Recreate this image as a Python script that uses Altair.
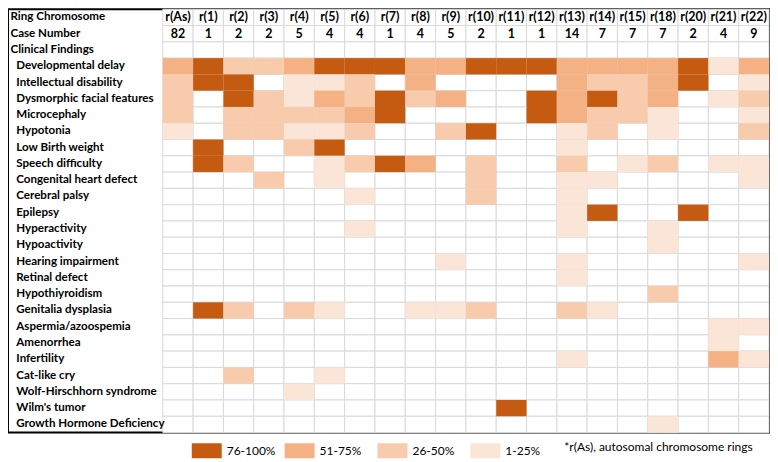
import altair as alt
import pandas as pd

# ---- data ----
rings = ["r(As)", "r(1)", "r(2)", "r(3)", "r(4)", "r(5)", "r(6)", "r(7)", "r(8)", "r(9)",
         "r(10)", "r(11)", "r(12)", "r(13)", "r(14)", "r(15)", "r(18)", "r(20)", "r(21)", "r(22)"]
cases = [82, 1, 2, 2, 5, 4, 4, 1, 4, 5, 2, 1, 1, 14, 7, 7, 7, 2, 4, 9]

header_rows = ["Ring Chromosome", "Case Number", "Clinical Findings"]
findings = [
    "Developmental delay", "Intellectual disability", "Dysmorphic facial features",
    "Microcephaly", "Hypotonia", "Low Birth weight", "Speech difficulty",
    "Congenital heart defect", "Cerebral palsy", "Epilepsy", "Hyperactivity",
    "Hypoactivity", "Hearing impairment", "Retinal defect", "Hypothiyroidism",
    "Genitalia dysplasia", "Aspermia/azoospemia", "Amenorrhea", "Infertility",
    "Cat-like cry", "Wolf-Hirschhorn syndrome", "Wilm's tumor", "Growth Hormone Deficiency",
]

# level per cell: 0 none, 1 = 1-25%, 2 = 26-50%, 3 = 51-75%, 4 = 76-100%
levels = [
    [3, 4, 2, 2, 3, 4, 4, 4, 3, 3, 4, 4, 4, 3, 3, 3, 3, 4, 1, 3],
    [2, 4, 4, 0, 1, 1, 2, 0, 3, 0, 0, 0, 0, 3, 2, 2, 3, 4, 0, 1],
    [2, 0, 4, 2, 1, 3, 2, 4, 2, 3, 0, 0, 4, 3, 4, 2, 3, 0, 1, 2],
    [2, 0, 2, 2, 2, 2, 3, 4, 0, 0, 0, 0, 4, 3, 2, 2, 1, 0, 0, 1],
    [1, 0, 2, 2, 1, 1, 2, 0, 0, 2, 4, 0, 0, 1, 2, 0, 1, 0, 0, 2],
    [0, 4, 0, 0, 2, 4, 0, 0, 0, 0, 0, 0, 0, 1, 0, 0, 0, 0, 0, 0],
    [0, 4, 2, 0, 0, 1, 2, 4, 3, 0, 2, 0, 0, 2, 0, 1, 2, 0, 1, 1],
    [0, 0, 0, 2, 0, 1, 0, 0, 0, 0, 2, 0, 0, 1, 1, 0, 0, 0, 0, 1],
    [0, 0, 0, 0, 0, 0, 1, 0, 0, 0, 2, 0, 0, 1, 0, 0, 0, 0, 0, 0],
    [0, 0, 0, 0, 0, 0, 0, 0, 0, 0, 0, 0, 0, 1, 4, 0, 0, 4, 0, 0],
    [0, 0, 0, 0, 0, 0, 1, 0, 0, 0, 0, 0, 0, 1, 0, 0, 1, 0, 0, 0],
    [0, 0, 0, 0, 0, 0, 0, 0, 0, 0, 0, 0, 0, 0, 0, 0, 1, 0, 0, 0],
    [0, 0, 0, 0, 0, 0, 0, 0, 0, 1, 0, 0, 0, 1, 0, 0, 0, 0, 0, 1],
    [0, 0, 0, 0, 0, 0, 0, 0, 0, 0, 0, 0, 0, 1, 0, 0, 0, 0, 0, 0],
    [0, 0, 0, 0, 0, 0, 0, 0, 0, 0, 0, 0, 0, 0, 0, 0, 2, 0, 0, 0],
    [0, 4, 2, 0, 2, 1, 0, 0, 1, 1, 2, 0, 0, 2, 1, 0, 0, 0, 0, 0],
    [0, 0, 0, 0, 0, 0, 0, 0, 0, 0, 0, 0, 0, 0, 0, 0, 0, 0, 1, 1],
    [0, 0, 0, 0, 0, 0, 0, 0, 0, 0, 0, 0, 0, 0, 0, 0, 0, 0, 1, 0],
    [0, 0, 0, 0, 0, 0, 0, 0, 0, 0, 0, 0, 0, 1, 0, 0, 0, 0, 3, 1],
    [0, 0, 2, 0, 0, 1, 0, 0, 0, 0, 0, 0, 0, 0, 0, 0, 0, 0, 0, 0],
    [0, 0, 0, 0, 1, 0, 0, 0, 0, 0, 0, 0, 0, 0, 0, 0, 0, 0, 0, 0],
    [0, 0, 0, 0, 0, 0, 0, 0, 0, 0, 0, 4, 0, 0, 0, 0, 0, 0, 0, 0],
    [0, 0, 0, 0, 0, 0, 0, 0, 0, 0, 0, 0, 0, 0, 0, 0, 1, 0, 0, 0],
]

legend_labels = ["76-100%", "51-75%", "26-50%", "1-25%"]
legend_levels = [4, 3, 2, 1]
legend_colors = ["#C55A11", "#F4B183", "#F8CBAD", "#FBE5D6"]
footnote = "*r(As), autosomal chromosome rings"

# ---- tables ----
all_rows = header_rows + findings
grid = pd.DataFrame([(r, c) for r in all_rows for c in rings], columns=["row", "ring"])

level_to_label = dict(zip(legend_levels, legend_labels))
cells = pd.DataFrame(
    [(f, c, level_to_label[lv]) for f, row in zip(findings, levels)
     for c, lv in zip(rings, row) if lv > 0],
    columns=["row", "ring", "share"],
)

headers = pd.DataFrame(
    [("Ring Chromosome", c, c) for c in rings] +
    [("Case Number", c, str(n)) for c, n in zip(rings, cases)],
    columns=["row", "ring", "label"],
)

FONT = "Lato"
TABLE_W, LABEL_W, ROW_H = 762, 155, 16.3
TABLE_H = ROW_H * len(all_rows)

indent_expr = ("(datum.value == 'Ring Chromosome' || datum.value == 'Case Number' || "
               "datum.value == 'Clinical Findings') ? datum.value : "
               "'\u2060\u2002' + datum.value")

def xenc():
    return alt.X("ring:N", scale=alt.Scale(domain=rings, range=[LABEL_W, TABLE_W],
                                           paddingInner=0, paddingOuter=0), axis=None)

def yenc():
    return alt.Y("row:N", scale=alt.Scale(domain=all_rows, paddingInner=0, paddingOuter=0),
                 axis=alt.Axis(title=None, orient="left", ticks=False, tickSize=0, domain=False,
                               grid=False, labelAlign="left", labelBaseline="middle",
                               labelPadding=-2, labelFont=FONT, labelFontSize=11.6,
                               labelFontWeight="bold", labelColor="black", labelLimit=0,
                               labelExpr=indent_expr))

base = alt.Chart(grid).mark_rect(fill="white", stroke="#D9D9D9", strokeWidth=1).encode(
    x=xenc(), y=yenc()
)

colored = alt.Chart(cells).mark_rect(strokeWidth=0, opacity=1).encode(
    x=xenc(), y=yenc(),
    color=alt.Color(
        "share:N",
        scale=alt.Scale(domain=legend_labels, range=legend_colors),
        legend=alt.Legend(
            orient="none", legendX=184, legendY=TABLE_H + 3, direction="horizontal",
            symbolType="M-1,-0.5H1V0.5H-1Z", symbolSize=900, symbolStrokeWidth=0,
            symbolOpacity=1, gridAlign="all", columnPadding=9, labelOffset=5,
            labelFont=FONT, labelFontSize=12, labelColor="black",
            title=footnote, titleOrient="right", titleFont=FONT, titleFontSize=12,
            titleFontWeight="normal", titleColor="black", titlePadding=24,
            titleBaseline="middle", titleLimit=0,
        ),
    ),
)

head_text = alt.Chart(headers).mark_text(font=FONT, fontSize=12.5, fontWeight="bold",
                                         color="black").encode(
    x=xenc(), y=yenc(), text="label:N"
)

chart = alt.layer(base, colored, head_text).properties(
    width=TABLE_W, height=TABLE_H, padding=0
).configure_view(stroke="black", strokeWidth=2)

chart.save("out.html", embed_options={"renderer": "svg", "actions": False})
